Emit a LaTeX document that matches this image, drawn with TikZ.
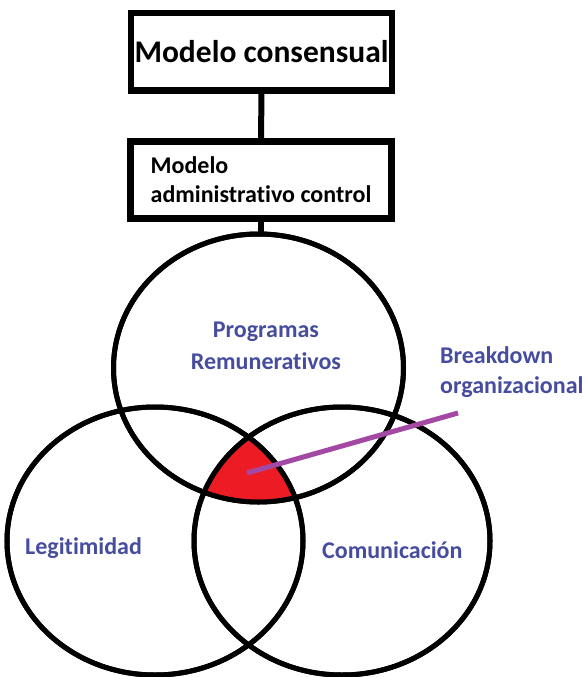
\documentclass[tikz,border=0pt]{standalone}
\usepackage{fontspec}
\setmainfont{Carlito}[Ligatures={NoCommon}]
\usetikzlibrary{shapes.geometric}
\definecolor{txtblue}{RGB}{70,76,158}
\definecolor{paintred}{RGB}{237,28,36}
\definecolor{paintpurple}{RGB}{163,73,164}
\tikzset{
  boxnode/.style={draw=black, line width=6.5pt, inner sep=0pt, fill=white},
  ring/.style={ellipse, draw=black, line width=5pt, inner sep=0pt},
  link/.style={draw=black, line width=6pt},
  lbl/.style={text=txtblue, font=\fontsize{24}{31}\selectfont\bfseries, inner sep=0pt, align=center},
}
\begin{document}
\begin{tikzpicture}[x=1pt, y=-1pt]
\useasboundingbox (0,0) rectangle (586,677);
\fill[white] (0,0) rectangle (586,677);
% Venn ellipses (shapes)
\node[ring, minimum width=290pt, minimum height=268pt] (top) at (258.5,368) {};
\node[ring, minimum width=296pt, minimum height=268pt] (left) at (155,541) {};
\node[ring, minimum width=296pt, minimum height=268pt] (right) at (342,541) {};
% red intersection
\begin{scope}
  \clip (258.5,368) ellipse [x radius=145pt, y radius=134pt];
  \clip (155,541) ellipse [x radius=148pt, y radius=134pt];
  \fill[paintred] (342,541) ellipse [x radius=148pt, y radius=134pt];
\end{scope}
\draw[line width=5pt] (258.5,368) ellipse [x radius=145pt, y radius=134pt];
\draw[line width=5pt] (155,541) ellipse [x radius=148pt, y radius=134pt];
\draw[line width=5pt] (342,541) ellipse [x radius=148pt, y radius=134pt];
% boxes
\node[boxnode, minimum width=261pt, minimum height=77pt,
      font=\fontsize{31.5}{33}\selectfont\bfseries] (b1) at (261.5,51.75) {Modelo consensual};
\node[boxnode, minimum width=261pt, minimum height=77pt, align=left,
      font=\fontsize{24}{29}\selectfont\bfseries] (b2) at (261,180) {Modelo\\administrativo control};
\draw[link] (b1.south) -- (b2.north);
\draw[link] (b2.south) -- (b2.south |- top.north);
% labels
\node[lbl, font=\fontsize{24}{32}\selectfont\bfseries] (prog) at (266,346) {Programas\\Remunerativos};
\node[lbl, align=left, anchor=west, font=\fontsize{24}{30}\selectfont\bfseries] (brk) at (440,372) {Breakdown\\organizacional};
\node[lbl, anchor=west] (leg) at (25,548) {Legitimidad};
\node[lbl, anchor=west] (com) at (322,550) {Comunicación};
% breakdown pointer
\coordinate (bdstart) at (247,473);
\coordinate (bdend) at (458,413);
\draw[paintpurple, line width=5pt] (bdstart) -- (bdend);
\end{tikzpicture}
\end{document}
